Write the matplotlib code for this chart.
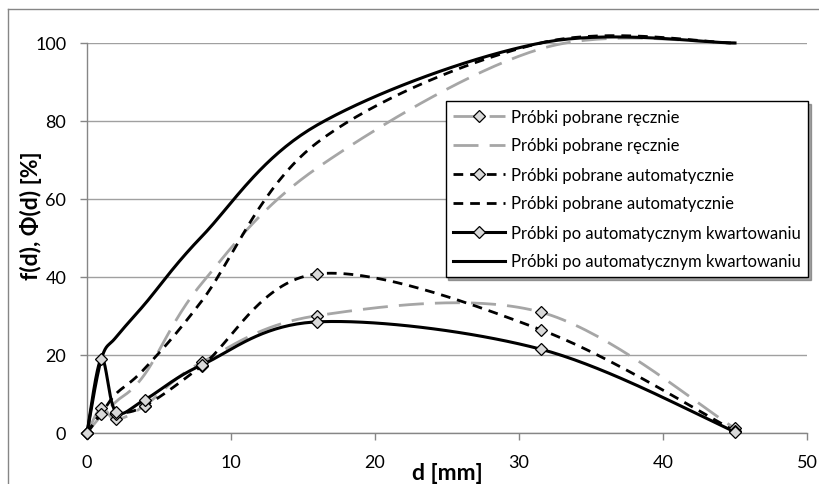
import numpy as np
import matplotlib
matplotlib.use("Agg")
import matplotlib.pyplot as plt
from matplotlib.lines import Line2D

# sieve sizes [mm]
d = [0, 1, 2, 4, 8, 16, 31.5, 45]

# fractions f(d) [%]
f_reczne = [0, 6.5, 3.5, 7.0, 18.2, 30.1, 31.0, 1.2]
f_auto = [0, 5.0, 5.0, 6.9, 17.3, 40.8, 26.5, 0.5]
f_kwart = [0, 19.0, 5.5, 8.5, 17.5, 28.5, 21.5, 0.3]

# cumulative Phi(d) [%]
phi_reczne = [0, 4.5, 8.0, 15.0, 38.5, 68.0, 98.5, 100.0]
phi_auto = [0, 5.0, 10.0, 16.5, 34.0, 74.5, 100.0, 100.0]
phi_kwart = [0, 19.0, 24.5, 33.0, 50.5, 79.0, 100.0, 100.0]

LABELS = ["Próbki pobrane ręcznie", "Próbki pobrane automatycznie",
          "Próbki po automatycznym kwartowaniu"]

GREY = "#a6a6a6"
MFACE = "#d9d9d9"


def smooth(xs, ys, n=40):
    """Excel-like smoothed line: cubic Bezier through the points."""
    p = np.column_stack([xs, ys]).astype(float)
    ext = np.vstack([p[0], p, p[-1]])
    out = []
    t = np.linspace(0, 1, n)[:, None]
    for i in range(len(p) - 1):
        p0, p1 = ext[i + 1], ext[i + 2]
        c1 = p0 + (ext[i + 2] - ext[i]) / 6
        c2 = p1 - (ext[i + 3] - ext[i + 1]) / 6
        seg = ((1 - t) ** 3) * p0 + 3 * ((1 - t) ** 2) * t * c1 \
            + 3 * (1 - t) * t ** 2 * c2 + t ** 3 * p1
        out.append(seg if i == 0 else seg[1:])
    s = np.vstack(out)
    return s[:, 0], s[:, 1]


plt.rcParams["font.family"] = ["Lato", "DejaVu Sans"]
fig = plt.figure(figsize=(8.2, 4.85), dpi=100)
ax = fig.add_axes([87 / 820, 51 / 485, 720 / 820, 390 / 485])

styles = [
    dict(color=GREY, lw=2.0, dashes=(9, 4)),
    dict(color="black", lw=2.0, dashes=(3.5, 2.5)),
    dict(color="black", lw=2.2, linestyle="-"),
]
mk = dict(marker="D", markersize=6, markerfacecolor=MFACE,
          markeredgecolor="black", markeredgewidth=0.9)

handles = []
for f, phi, st, lab in zip([f_reczne, f_auto, f_kwart],
                           [phi_reczne, phi_auto, phi_kwart], styles, LABELS):
    sx, sy = smooth(d, f)
    ax.plot(sx, sy, zorder=3, clip_on=False, **st)
    ax.plot(d, f, linestyle="none", zorder=4, clip_on=False, **mk)
    px, py = smooth(d, phi)
    ax.plot(px, py, zorder=3, clip_on=False, **st)
    handles.append(Line2D([], [], **st, **mk))
    handles.append(Line2D([], [], **st))

labels = [LABELS[0], LABELS[0], LABELS[1], LABELS[1], LABELS[2], LABELS[2]]

ax.set_xlim(0, 50)
ax.set_ylim(0, 100)
ax.set_xticks(range(0, 51, 10))
ax.set_yticks(range(0, 101, 20))
ax.yaxis.grid(True, color="#a0a0a0", lw=1.0)
ax.set_axisbelow(True)
for s in ["top", "right"]:
    ax.spines[s].set_visible(False)
for s in ["left", "bottom"]:
    ax.spines[s].set_color("#868686")
    ax.spines[s].set_linewidth(1.0)
ax.tick_params(axis="both", direction="out", length=5, width=1.0,
               color="#868686", labelsize=13, pad=10)

# axis titles
fig.text(447 / 820, 1 - 474 / 485, "d [mm]", fontsize=16.5, fontweight="bold",
         ha="center", va="center")
fig.text(31 / 820, 1 - 216 / 485, "f(d), Φ(d) [%]", fontsize=16.5,
         fontweight="bold", rotation=90, ha="center", va="center")

leg = fig.legend(handles, labels, loc="upper right",
                 bbox_to_anchor=(808 / 820, (485 - 102) / 485),
                 borderaxespad=0, fancybox=False, shadow=True, framealpha=1,
                 edgecolor="black", fontsize=12, handlelength=3.1,
                 labelspacing=0.78, handletextpad=0.35, borderpad=0.45)
leg.get_frame().set_linewidth(1.0)

# chart-area border (only left and top edges fall inside the picture)
fig.add_artist(Line2D([8 / 820, 8 / 820], [0, 1 - 10 / 485],
                      transform=fig.transFigure, color="#868686", lw=1))
fig.add_artist(Line2D([8 / 820, 1], [1 - 10 / 485, 1 - 10 / 485],
                      transform=fig.transFigure, color="#868686", lw=1))

fig.savefig("out.png", dpi=100)
